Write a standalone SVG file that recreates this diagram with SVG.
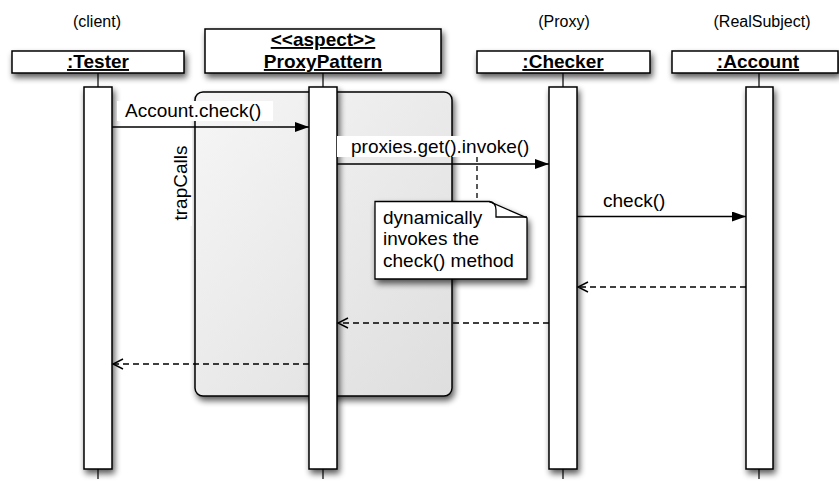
<svg xmlns="http://www.w3.org/2000/svg" width="839" height="484" viewBox="0 0 839 484">
  <style>
    text { font-family: "Liberation Sans", Arial, Helvetica, sans-serif; fill: #000; }
    .role { font-size: 16px; text-anchor: middle; }
    .hdr { font-size: 19px; font-weight: bold; text-anchor: middle; text-decoration: underline; }
    .msg { font-size: 19px; }
    .box { fill: #fff; stroke: #000; stroke-width: 1.5; }
    .bar { fill: #fff; stroke: #000; stroke-width: 1.5; }
    .stub { stroke: #000; stroke-width: 1.2; }
    .call { stroke: #000; stroke-width: 1.3; fill: none; marker-end: url(#filled); }
    .ret { stroke: #000; stroke-width: 1.4; fill: none; stroke-dasharray: 6 4; marker-end: url(#open); }
    .lblbg { fill: #fff; }
  </style>
  <defs>
    <filter id="shadow" filterUnits="userSpaceOnUse" x="0" y="0" width="839" height="484">
      <feGaussianBlur in="SourceAlpha" stdDeviation="3"/>
      <feOffset dx="2" dy="4"/>
      <feComponentTransfer><feFuncA type="linear" slope="0.65"/></feComponentTransfer>
      <feMerge><feMergeNode/><feMergeNode in="SourceGraphic"/></feMerge>
    </filter>
    <linearGradient id="frameFill" x1="0" y1="0" x2="1" y2="1">
      <stop offset="0" stop-color="#f6f6f6"/>
      <stop offset="1" stop-color="#dedede"/>
    </linearGradient>
    <marker id="filled" markerUnits="userSpaceOnUse" markerWidth="16" markerHeight="12" refX="14" refY="5" orient="auto">
      <path d="M0,0 L14,5 L0,10 Z" fill="#000"/>
    </marker>
    <marker id="open" markerUnits="userSpaceOnUse" markerWidth="14" markerHeight="14" refX="11" refY="6" orient="auto">
      <path d="M1,1 L11,6 L1,11" fill="none" stroke="#000" stroke-width="1.4"/>
    </marker>
  </defs>

  <!-- advice frame around the ProxyPattern activation -->
  <g id="trapCalls">
    <rect x="195" y="92" width="257" height="304" rx="8" fill="url(#frameFill)" stroke="#000" stroke-width="1.5" filter="url(#shadow)"/>
    <rect class="lblbg" x="170" y="129" width="22" height="97"/>
    <text class="msg" transform="translate(187,183) rotate(-90)" text-anchor="middle">trapCalls</text>
  </g>

  <!-- participants -->
  <g id="tester">
    <text class="role" x="97" y="27">(client)</text>
    <rect class="box" x="12" y="51" width="172" height="22" filter="url(#shadow)"/>
    <text class="hdr" x="98" y="68">:Tester</text>
    <line class="stub" x1="98" y1="73" x2="98" y2="87"/>
    <rect class="bar" x="84" y="87" width="28" height="382" filter="url(#shadow)"/>
    <line class="stub" x1="98" y1="469" x2="98" y2="479"/>
  </g>

  <g id="proxyPattern">
    <rect class="box" x="205" y="29" width="236" height="44" filter="url(#shadow)"/>
    <text class="hdr" x="323" y="46">&lt;&lt;aspect&gt;&gt;</text>
    <text class="hdr" x="323" y="68">ProxyPattern</text>
    <line class="stub" x1="323" y1="73" x2="323" y2="87"/>
    <rect class="bar" x="309" y="87" width="28" height="382" filter="url(#shadow)"/>
    <line class="stub" x1="323" y1="469" x2="323" y2="479"/>
  </g>

  <g id="checker">
    <text class="role" x="564" y="27">(Proxy)</text>
    <rect class="box" x="477" y="51" width="173" height="22" filter="url(#shadow)"/>
    <text class="hdr" x="563" y="68">:Checker</text>
    <line class="stub" x1="563" y1="73" x2="563" y2="87"/>
    <rect class="bar" x="549" y="87" width="28" height="382" filter="url(#shadow)"/>
    <line class="stub" x1="563" y1="469" x2="563" y2="479"/>
  </g>

  <g id="account">
    <text class="role" x="762" y="27">(RealSubject)</text>
    <rect class="box" x="672" y="51" width="166" height="22" filter="url(#shadow)"/>
    <text class="hdr" x="758" y="68">:Account</text>
    <line class="stub" x1="759" y1="73" x2="759" y2="87"/>
    <rect class="bar" x="746" y="87" width="27" height="382" filter="url(#shadow)"/>
    <line class="stub" x1="759" y1="469" x2="759" y2="479"/>
  </g>

  <!-- messages -->
  <g id="connectors">
    <line class="call" x1="112" y1="127" x2="309" y2="127"/>
    <rect class="lblbg" x="117" y="101" width="156" height="20"/>
    <text class="msg" x="125" y="117">Account.check()</text>

    <line class="call" x1="337" y1="164" x2="549" y2="164"/>
    <line x1="477" y1="157" x2="477" y2="201" stroke="#000" stroke-width="1.3" stroke-dasharray="5 4"/>
    <rect class="lblbg" x="337" y="136" width="206" height="21"/>
    <text class="msg" x="351" y="153">proxies.get().invoke()</text>

    <line class="call" x1="577" y1="216.5" x2="746" y2="216.5"/>
    <text class="msg" x="603" y="207">check()</text>

    <line class="ret" x1="746" y1="287" x2="578" y2="287"/>
    <line class="ret" x1="549" y1="323" x2="338" y2="323"/>
    <line class="ret" x1="309" y1="364" x2="113" y2="364"/>
  </g>

  <!-- note on the reflective call -->
  <g id="note">
    <path d="M375,201.5 L489,201.5 L527,218 L527,279 L375,279 Z" fill="#fff" stroke="#000" stroke-width="1.3" filter="url(#shadow)"/>
    <path d="M489,201.5 C494,202 496,205 496,210 L496,217 L527,217" fill="none" stroke="#000" stroke-width="1.3"/>
    <text class="msg" x="383" y="224">dynamically</text>
    <text class="msg" x="383" y="245">invokes the</text>
    <text class="msg" x="383" y="267">check() method</text>
  </g>
</svg>
